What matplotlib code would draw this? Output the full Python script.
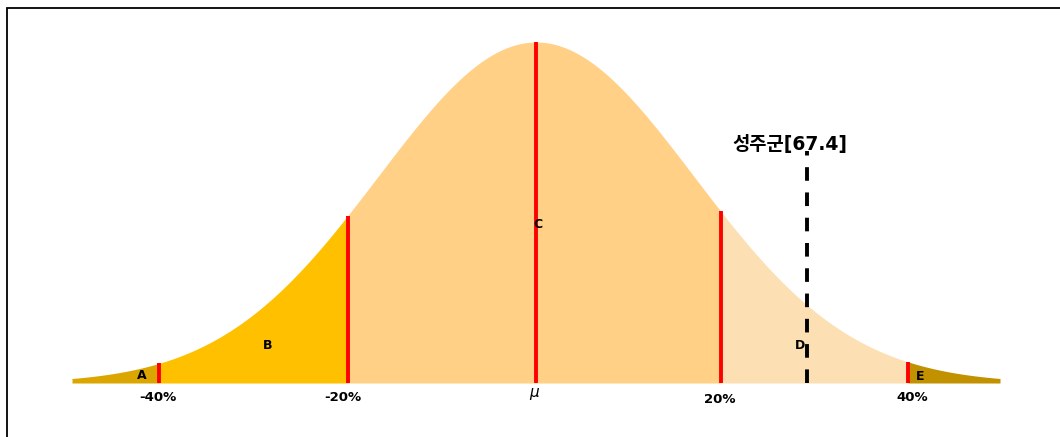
import numpy as np
import matplotlib
matplotlib.use("Agg")
import matplotlib.pyplot as plt
from matplotlib.patches import Rectangle

plt.rcParams['font.family'] = ['DejaVu Sans', 'Noto Sans CJK KR']

# data
x_min, x_max = -50, 50
sigma = 17.0
boundaries = [-40.6, -20.3, 0, 19.9, 40.1]
tick_pos = [-40.7, -20.8, -0.2, 19.8, 40.5]
tick_labels = ['-40%', '-20%', r'$\mu$', '20%', '40%']
region_names = ['A', 'B', 'C', 'D', 'E']
region_label_x = [-42.5, -28.9, 0.2, 28.4, 41.4]
region_label_y = [0.023, 0.111, 0.466, 0.111, 0.02]
region_colors = ['#DBA600', '#FFC000', '#FFD085', '#FDDFB4', '#C29100']
marker_x = 29.2
marker_label = '성주군[67.4]'

def curve(x):
    return np.exp(-np.asarray(x) ** 2 / (2 * sigma ** 2))

W, H = 1060, 437
fig = plt.figure(figsize=(W / 100, H / 100), dpi=100)
fig.patch.set_facecolor('white')
# partial frame (top & left visible)
fig.add_artist(Rectangle((7 / W, -0.1), 1.2, (H - 8) / H + 0.1, transform=fig.transFigure,
                         fill=False, edgecolor='black', lw=1.3))

ax = fig.add_axes([72 / W, (H - 383) / H, 928 / W, 341 / H])
ax.set_xlim(x_min, x_max)
ax.set_ylim(0, 1.0)
ax.axis('off')

edges = [x_min] + [boundaries[0], boundaries[1], boundaries[3], boundaries[4]] + [x_max]
for i in range(5):
    xs = np.linspace(edges[i], edges[i + 1], 300)
    ax.fill_between(xs, 0, curve(xs), color=region_colors[i], lw=0)

for b in boundaries:
    ax.plot([b, b], [0, curve(b)], color='#FF0000', lw=2.8, solid_capstyle='butt')

ax.plot([marker_x, marker_x], [0, 0.68], color='black', lw=2.8, ls=(0, (3.5, 3)))
ax.text(27.4, 0.70, marker_label, ha='center', va='center', fontsize=13.5, fontweight='bold')

for nm, lx, ly in zip(region_names, region_label_x, region_label_y):
    ax.text(lx, ly, nm, ha='center', va='center', fontsize=9, fontweight='bold')

tick_y = [-0.043, -0.043, -0.032, -0.049, -0.043]
for b, tl, ty in zip(tick_pos, tick_labels, tick_y):
    if tl.startswith('$'):
        ax.text(b, ty, tl, ha='center', va='center', fontsize=11, fontweight='bold', clip_on=False)
    else:
        ax.text(b, ty, tl, ha='center', va='center', fontsize=9.5, fontweight='bold', clip_on=False)

fig.savefig('out.png', dpi=100)
